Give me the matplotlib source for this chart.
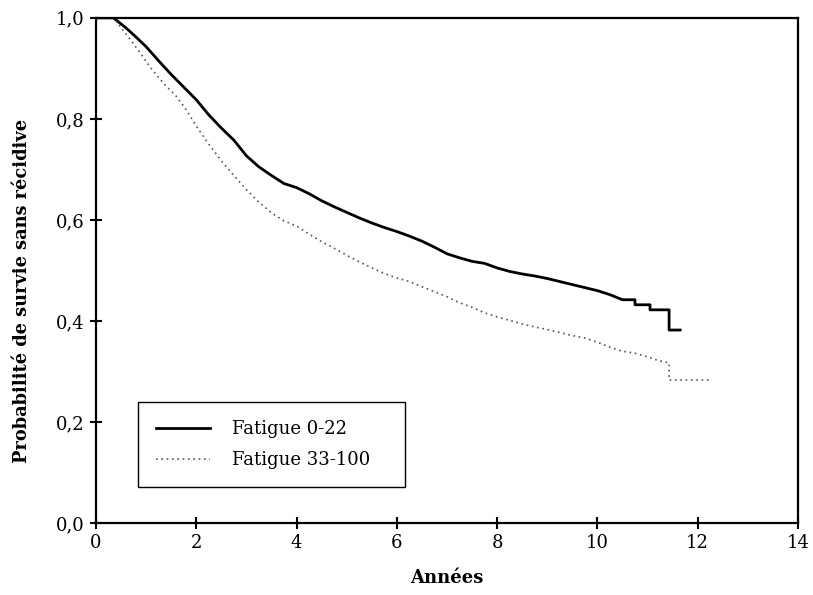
import numpy as np
import matplotlib.pyplot as plt

# Courbes de survie (années, probabilité)
t_fat1 = [0.0, 0.35, 0.6, 0.8, 1.0, 1.25, 1.5, 1.75, 2.0, 2.25, 2.5, 2.75, 3.0, 3.25, 3.5,
          3.75, 4.0, 4.25, 4.5, 4.75, 5.0, 5.25, 5.5, 5.75, 6.0, 6.25, 6.5, 6.75, 7.0, 7.25,
          7.5, 7.75, 8.0, 8.25, 8.5, 8.75, 9.0, 9.25, 9.5, 9.75, 10.0, 10.25, 10.5,
          10.75, 10.75, 11.05, 11.05, 11.43, 11.43, 11.65]
s_fat1 = [1.0, 1.0, 0.98, 0.962, 0.943, 0.915, 0.888, 0.863, 0.838, 0.808, 0.782, 0.758,
          0.727, 0.705, 0.688, 0.672, 0.664, 0.652, 0.638, 0.626, 0.615, 0.604, 0.594, 0.585,
          0.577, 0.568, 0.558, 0.546, 0.533, 0.525, 0.518, 0.514, 0.505, 0.498, 0.493, 0.489,
          0.484, 0.478, 0.472, 0.466, 0.460, 0.452, 0.442,
          0.442, 0.432, 0.432, 0.422, 0.422, 0.382, 0.382]

t_fat2 = [0.0, 0.35, 0.6, 0.85, 1.1, 1.35, 1.6, 1.8, 2.0, 2.25, 2.5, 2.75, 3.0, 3.25, 3.5,
          3.75, 4.0, 4.25, 4.5, 4.75, 5.0, 5.25, 5.5, 5.75, 6.0, 6.25, 6.5, 6.75, 7.0, 7.25,
          7.5, 7.75, 8.0, 8.25, 8.5, 8.75, 9.0, 9.25, 9.5, 9.75, 10.0, 10.25, 10.5, 10.75,
          11.0, 11.2, 11.43, 11.43, 12.28]
s_fat2 = [1.0, 1.0, 0.968, 0.935, 0.900, 0.870, 0.845, 0.818, 0.786, 0.750, 0.717, 0.688,
          0.660, 0.635, 0.614, 0.598, 0.588, 0.572, 0.557, 0.544, 0.530, 0.517, 0.505, 0.494,
          0.485, 0.478, 0.468, 0.458, 0.448, 0.436, 0.427, 0.416, 0.408, 0.401, 0.394, 0.388,
          0.383, 0.377, 0.371, 0.366, 0.358, 0.348, 0.340, 0.336, 0.329, 0.322, 0.317, 0.283,
          0.283]

xticks = [0, 2, 4, 6, 8, 10, 12, 14]
yticks = [0.0, 0.2, 0.4, 0.6, 0.8, 1.0]

plt.rcParams['font.family'] = ['DejaVu Serif']

fig = plt.figure(figsize=(8.13, 5.95), dpi=100)
ax = fig.add_axes([0.118, 0.121, 0.8635, 0.849])

ax.plot(t_fat1, s_fat1, color="black", lw=2, label="Fatigue 0-22")
ax.plot(t_fat2, s_fat2, color="#555555", lw=1.2, ls=(0, (1, 2.2)), label="Fatigue 33-100")

ax.set_xlim(0, 14)
ax.set_ylim(0, 1.0)
ax.set_xticks(xticks)
ax.set_xticklabels([str(v) for v in xticks])
ax.set_yticks(yticks)
ax.set_yticklabels([("%.1f" % v).replace(".", ",") for v in yticks])
ax.tick_params(direction="inout", length=8, width=1.5, labelsize=13, pad=4)
for sp in ax.spines.values():
    sp.set_linewidth(1.6)

ax.set_xlabel("Années", fontsize=13, fontweight="bold", labelpad=12)
ax.set_ylabel("Probabilité de survie sans récidive", fontsize=12.8, fontweight="bold")
ax.yaxis.set_label_coords(-0.092, 0.46)

leg = ax.legend(loc="lower left", bbox_to_anchor=(0.06, 0.071, 0.38, 0.17), mode="expand",
                borderaxespad=0, fontsize=13, fancybox=False, edgecolor="black",
                framealpha=1, handlelength=3.0, borderpad=1.0, labelspacing=0.7,
                handletextpad=1.2)
leg.get_frame().set_linewidth(1.0)

plt.savefig("out.png", dpi=100)
